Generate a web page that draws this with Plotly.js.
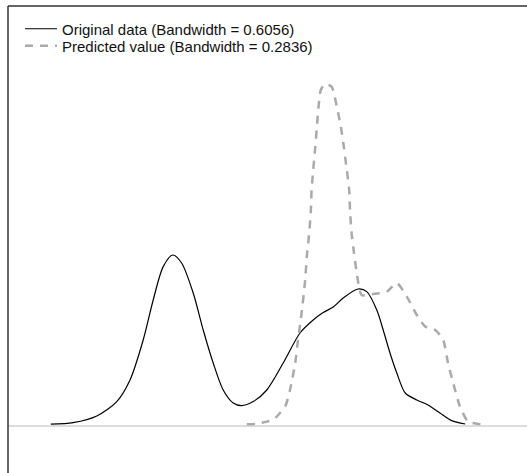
<!DOCTYPE html>
<html>
<head>
<meta charset="utf-8">
<script src="https://cdn.plot.ly/plotly-3.0.1.min.js"></script>
<style>html,body{margin:0;padding:0;background:#fff;}#chart{width:527px;height:473px;}</style>
</head>
<body>
<div id="chart"></div>
<script>
// Original data density (bandwidth 0.6056)
var origX = [1.07,1.63,2.22,2.72,3.05,3.38,3.63,3.88,4.12,4.34,4.63,4.88,5.13,5.38,5.63,5.84,6.13,6.47,6.88,7.30,7.63,7.88,8.13,8.38,8.75,8.97,9.22,9.38,9.55,9.72,9.93,10.22,10.50,10.80,11.09,11.43];
var origY = [0.0009,0.0017,0.0050,0.0122,0.0230,0.0430,0.0630,0.0797,0.0855,0.0815,0.0665,0.0480,0.0315,0.0180,0.0115,0.0102,0.0122,0.0180,0.0315,0.0465,0.0530,0.0567,0.0595,0.0640,0.0685,0.0672,0.0580,0.0480,0.0365,0.0265,0.0165,0.0130,0.0105,0.0065,0.0027,0.0010];
// Predicted value density (bandwidth 0.2836)
var predX = [5.97,6.18,6.47,6.63,6.80,6.93,7.05,7.18,7.25,7.34,7.43,7.47,7.53,7.57,7.59,7.63,7.68,7.72,7.76,7.82,7.93,8.09,8.22,8.32,8.40,8.47,8.53,8.55,8.59,8.65,8.72,8.84,9.13,9.47,9.72,9.97,10.22,10.43,10.68,10.88,11.00,11.13,11.30,11.50,11.80,11.93];
var predY = [0.0009,0.0010,0.0022,0.0030,0.0065,0.0097,0.0180,0.0315,0.0430,0.0565,0.0730,0.0847,0.0965,0.1072,0.1180,0.1280,0.1390,0.1490,0.1590,0.1680,0.1710,0.1697,0.1597,0.1497,0.1390,0.1280,0.1180,0.1080,0.0965,0.0865,0.0765,0.0655,0.0660,0.0672,0.0715,0.0647,0.0555,0.0497,0.0480,0.0430,0.0315,0.0215,0.0097,0.0022,0.0009,0.0008];
var seriesNames = ["Original data (Bandwidth = 0.6056)", "Predicted value (Bandwidth = 0.2836)"];

var traces = [
  {x: origX, y: origY, type: 'scatter', mode: 'lines', name: seriesNames[0], legend: 'legend',
   line: {color: '#000000', width: 1.2, shape: 'spline', smoothing: 0.8}},
  {x: predX, y: predY, type: 'scatter', mode: 'lines', name: seriesNames[1], legend: 'legend2',
   line: {color: '#aaaaaa', width: 2.5, dash: '8px,7px', shape: 'spline', smoothing: 0.6}}
];

var legFont = {family: 'Liberation Sans, Arial, sans-serif', size: 15, color: '#111111'};
var layout = {
  width: 527, height: 473,
  margin: {l: 8, r: 0, t: 6, b: 0},
  paper_bgcolor: '#ffffff', plot_bgcolor: '#ffffff',
  font: {family: 'Liberation Sans, Arial, sans-serif', size: 15, color: '#000000'},
  xaxis: {visible: false, range: [0, 12.975], fixedrange: true},
  yaxis: {visible: false, range: [-0.0235, 0.21], fixedrange: true},
  showlegend: true,
  legend: {x: 0.0231, y: 0.9507, xanchor: 'left', yanchor: 'middle', bgcolor: 'rgba(0,0,0,0)',
           borderwidth: 0, font: legFont, itemwidth: 32},
  legend2: {x: 0.0231, y: 0.9143, xanchor: 'left', yanchor: 'middle', bgcolor: 'rgba(0,0,0,0)',
           borderwidth: 0, font: legFont, itemwidth: 32},
  shapes: [
    {type: 'line', xref: 'paper', yref: 'y', x0: 0, x1: 1, y0: 0, y1: 0, line: {color: '#bbbbbb', width: 1}},
    {type: 'line', xref: 'paper', yref: 'paper', x0: 0, x1: 1, y0: 1, y1: 1, line: {color: '#333333', width: 1.5}},
    {type: 'line', xref: 'paper', yref: 'paper', x0: 0, x1: 0, y0: 0, y1: 1, line: {color: '#333333', width: 1.5}}
  ]
};

Plotly.newPlot('chart', traces, layout, {staticPlot: true, displayModeBar: false});
</script>
</body>
</html>
